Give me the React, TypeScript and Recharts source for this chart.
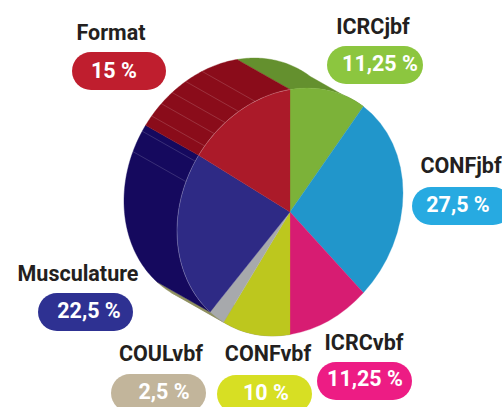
import { Pie, PieChart, Sector } from 'recharts';

const categories = ['ICRCjbf', 'CONFjbf', 'ICRCvbf', 'CONFvbf', 'COULvbf', 'Musculature', 'Format'];
const shares = [11.25, 27.5, 11.25, 10, 2.5, 22.5, 15];
const shareLabels = ['11,25 %', '27,5 %', '11,25 %', '10 %', '2,5 %', '22,5 %', '15 %'];

const faceColors = ['#7cb239', '#2196cb', '#d71c72', '#bdc71e', '#a7a9ac', '#2e2a85', '#ab1a29'];
// blue and pink walls sit behind the face, so they get no paint
const sideColors = ['#64902e', 'none', 'none', '#8f9060', '#8f9060', '#15095e', '#8a0c1a'];
const pillColors = ['#8cc63f', '#27aae1', '#ed1c84', '#d7df23', '#c2b59b', '#2e3192', '#bf1e2e'];

// angle clockwise from the top where the thin seams sit on the side wall
const seamAngles = [293, 303, 311, 318, 325, 333, 342];
const rimmedCategories = ['Musculature', 'Format'];

// where each label goes: title centre/baseline, pill box, value centre/baseline
const labelBoxes = [
  { tx: 373, ty: 34, px: 327, py: 46, pw: 96, vx: 380, vy: 71 },
  { tx: 461, ty: 173, px: 412, py: 187, pw: 100, vx: 458, vy: 212 },
  { tx: 364, ty: 350, px: 317, py: 362, pw: 95, vx: 365, vy: 386 },
  { tx: 268, ty: 361, px: 217, py: 375, pw: 95, vx: 266, vy: 400 },
  { tx: 161, ty: 361, px: 111, py: 374, pw: 95, vx: 164, vy: 399 },
  { tx: 78, ty: 281, px: 38, py: 293, pw: 95, vx: 89, vy: 318 },
  { tx: 111, ty: 40, px: 72, py: 52, pw: 94, vx: 114, vy: 78 },
];

const chartData = categories.map((name, i) => ({
  name,
  value: shares[i],
  fill: faceColors[i],
  side: sideColors[i],
}));

const CX = 290;
const CY = 212;
const RADIUS = 122.5;
const SCALE_X = 113 / RADIUS;
const SHEAR_Y = -19 / RADIUS;
const WALL_X = -53;
const WALL_Y = -30;

const rad = (deg: number) => (deg * Math.PI) / 180;

// point on the tilted rim for a chart angle
function rim(cx: number, cy: number, r: number, deg: number) {
  const c = Math.cos(rad(deg));
  const s = Math.sin(rad(deg));
  return [cx + r * SCALE_X * c, cy + r * SHEAR_Y * c - r * s];
}

function arcPoints(cx: number, cy: number, r: number, from: number, to: number) {
  const pts: number[][] = [];
  const steps = Math.max(2, Math.ceil(Math.abs(from - to)));
  for (let i = 0; i <= steps; i++) {
    pts.push(rim(cx, cy, r, from + ((to - from) * i) / steps));
  }
  return pts;
}

function WallShape(props: any) {
  const { cx, cy, outerRadius, startAngle, endAngle, side } = props;
  if (side === 'none') return <g />;
  const front = arcPoints(cx, cy, outerRadius, startAngle, endAngle);
  const back = [...front].reverse().map(([x, y]) => [x + WALL_X, y + WALL_Y]);
  const d = 'M' + [...front, ...back].map(([x, y]) => `${x},${y}`).join('L') + 'Z';
  const seams = seamAngles
    .map((a) => 90 - a)
    .filter((a) => a <= startAngle && a >= endAngle);
  return (
    <g>
      <path d={d} fill={side} stroke={side} strokeWidth={0.4} />
      {seams.map((a) => {
        const [x, y] = rim(cx, cy, outerRadius, a);
        return (
          <line
            key={a}
            x1={x}
            y1={y}
            x2={x + WALL_X}
            y2={y + WALL_Y}
            stroke="#ffffff"
            strokeOpacity={0.22}
            strokeWidth={0.7}
          />
        );
      })}
    </g>
  );
}

function FaceShape(props: any) {
  const { cx, cy, outerRadius, startAngle, endAngle, name } = props;
  const edge = arcPoints(cx, cy, outerRadius, startAngle, endAngle);
  return (
    <g>
      <g transform={`translate(${cx} ${cy}) matrix(${SCALE_X} ${SHEAR_Y} 0 1 0 0) translate(${-cx} ${-cy})`}>
        <Sector {...props} stroke={props.fill} strokeWidth={0.3} />
      </g>
      {rimmedCategories.includes(name) && (
        <polyline
          points={edge.map(([x, y]) => `${x},${y}`).join(' ')}
          fill="none"
          stroke="#ffffff"
          strokeOpacity={0.3}
          strokeWidth={0.7}
        />
      )}
    </g>
  );
}

function SliceLabel(props: any) {
  const { index, name } = props;
  const box = labelBoxes[index];
  return (
    <g fontFamily="Roboto, sans-serif" fontWeight={700}>
      <text x={box.tx} y={box.ty} textAnchor="middle" fontSize={21.5} fill="#231f20">
        {name}
      </text>
      <rect x={box.px} y={box.py} width={box.pw} height={38} rx={19} fill={pillColors[index]} />
      <text x={box.vx} y={box.vy} textAnchor="middle" fontSize={21.5} fill="#ffffff">
        {shareLabels[index]}
      </text>
    </g>
  );
}

export default function App() {
  return (
    <div style={{ position: 'absolute', left: 0, top: 0 }}>
      <PieChart width={502} height={407} margin={{ top: 0, right: 0, bottom: 0, left: 0 }}>
        <Pie
          data={chartData}
          dataKey="value"
          cx={CX}
          cy={CY}
          innerRadius={0}
          outerRadius={RADIUS}
          startAngle={90}
          endAngle={-270}
          shape={WallShape}
          stroke="none"
          isAnimationActive={false}
        />
        <Pie
          data={chartData}
          dataKey="value"
          cx={CX}
          cy={CY}
          innerRadius={0}
          outerRadius={RADIUS}
          startAngle={90}
          endAngle={-270}
          shape={FaceShape}
          label={SliceLabel}
          labelLine={false}
          isAnimationActive={false}
        />
      </PieChart>
    </div>
  );
}
